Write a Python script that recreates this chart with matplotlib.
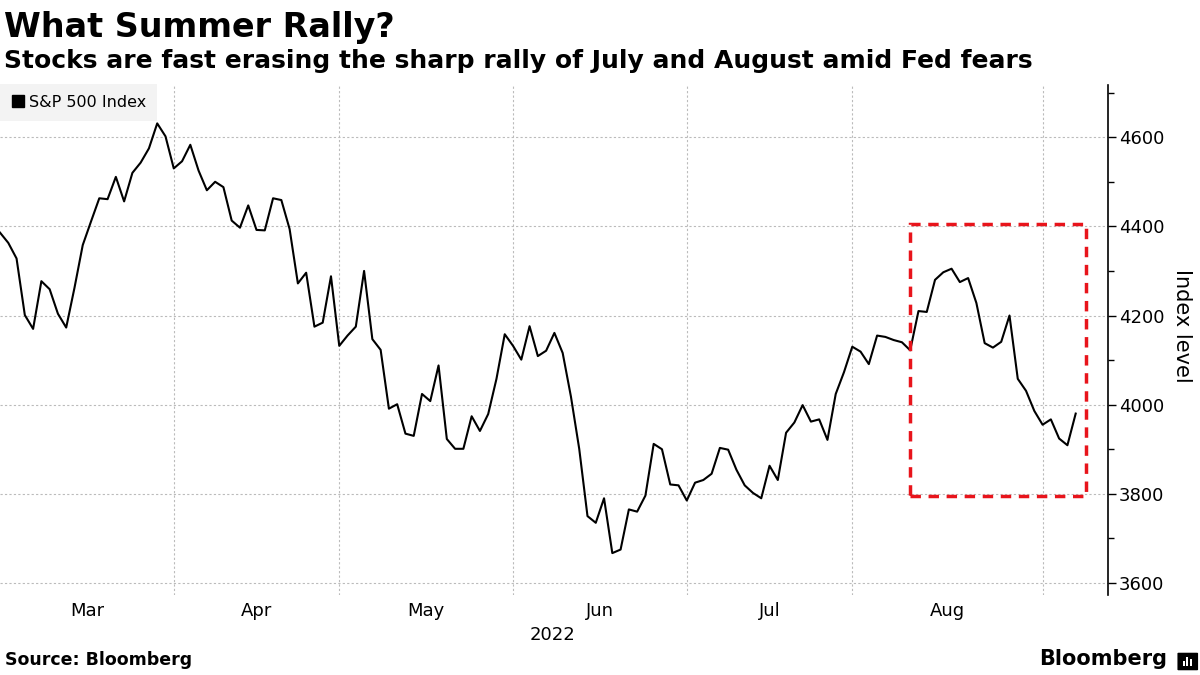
import numpy as np
import pandas as pd
import matplotlib
matplotlib.use("Agg")
import matplotlib.pyplot as plt
import matplotlib.transforms as mtransforms
from matplotlib.lines import Line2D
from matplotlib.patches import Rectangle, FancyBboxPatch
from matplotlib.ticker import MultipleLocator

# Cierres diarios del S&P 500, 2 de marzo a 7 de septiembre de 2022
FERIADOS = ["2022-04-15", "2022-05-30", "2022-06-20", "2022-07-04", "2022-09-05"]
fechas = pd.bdate_range("2022-03-02", "2022-09-07")
fechas = fechas[~fechas.isin(pd.to_datetime(FERIADOS))]

niveles = [
    4386, 4363, 4328, 4201, 4170, 4277, 4259, 4204, 4173, 4262, 4358, 4411, 4463,
    4461, 4511, 4456, 4520, 4543, 4575, 4631, 4602, 4530,
    4546, 4583, 4525, 4481, 4500, 4488, 4413, 4397, 4447, 4392, 4391, 4463, 4459,
    4394, 4272, 4296, 4175, 4184, 4288, 4132,
    4155, 4175, 4300, 4147, 4123, 3991, 4001, 3935, 3930, 4024, 4008, 4088, 3923,
    3901, 3901, 3974, 3941, 3979, 4058, 4158, 4132,
    4101, 4176, 4109, 4121, 4161, 4116, 4018, 3901, 3750, 3735, 3790, 3667, 3675,
    3765, 3760, 3796, 3912, 3900, 3821, 3819, 3785,
    3825, 3831, 3845, 3903, 3899, 3854, 3819, 3802, 3790, 3863, 3831, 3937, 3960,
    3999, 3962, 3967, 3921, 4024, 4073, 4130,
    4119, 4091, 4155, 4152, 4145, 4140, 4122, 4210, 4208, 4280, 4297, 4305, 4275,
    4284, 4228, 4138, 4128, 4141, 4200, 4058, 4031, 3986, 3955,
    3967, 3924, 3909, 3980,
]

meses = ["Mar", "Apr", "May", "Jun", "Jul", "Aug"]
y_ticks = [3600, 3800, 4000, 4200, 4400, 4600]

# recuadro rojo: desde el 9 de agosto, 3800 a 4400 aprox.
recuadro_inicio = "2022-08-09"
recuadro_dias = 21.2
recuadro_bajo, recuadro_alto = 3795, 4405


def main(ruta_grafico):
    idx = np.arange(len(fechas))
    serie = pd.Series(niveles, index=fechas)

    fig = plt.figure(figsize=(12, 6.75), dpi=100)
    ax = fig.add_axes([0.0, 0.1185, 0.9233, 0.7555])

    ax.plot(idx, serie.values, color="black", lw=1.5, zorder=3)

    # lineas de mes: ultimo dia habil del mes anterior
    cortes = [np.searchsorted(fechas, pd.Timestamp(f"2022-{m:02d}-01")) - 1 for m in range(4, 10)]
    x_izq, x_der = 0.0, 133.9
    ax.set_xlim(x_izq, x_der)
    ax.set_ylim(3573, 4717)

    for x in cortes:
        ax.axvline(x, color="#bbbbbb", lw=0.8, ls=(0, (2, 2)), zorder=1)
    for y in y_ticks:
        ax.axhline(y, color="#bbbbbb", lw=0.8, ls=(0, (2, 2)), zorder=1)

    bordes = [x_izq] + cortes
    centros = [(bordes[i] + bordes[i + 1]) / 2 for i in range(len(meses))]
    ax.set_xticks(centros)
    ax.set_xticklabels(meses, fontsize=13)
    ax.tick_params(axis="x", length=0, pad=5)

    trans = mtransforms.blended_transform_factory(ax.transData, ax.transAxes)
    ax.text(66.8, -0.078, "2022", transform=trans, ha="center", va="center", fontsize=13)

    ax.yaxis.tick_right()
    ax.set_yticks(y_ticks)
    ax.yaxis.set_minor_locator(MultipleLocator(100))
    ax.tick_params(axis="y", labelsize=13, length=6, width=1, pad=2)
    ax.tick_params(axis="y", which="minor", length=4, width=1)
    ax.yaxis.set_label_position("right")
    ax.set_ylabel("Index level", fontsize=15, rotation=270, va="bottom")
    ax.yaxis.set_label_coords(1.058, 0.527)

    for lado in ["top", "left", "bottom"]:
        ax.spines[lado].set_visible(False)
    ax.spines["right"].set_linewidth(1.2)

    x0 = np.searchsorted(fechas, pd.Timestamp(recuadro_inicio))
    ax.add_patch(Rectangle((x0, recuadro_bajo), recuadro_dias, recuadro_alto - recuadro_bajo,
                           fill=False, edgecolor="#e8141b", lw=2.5, ls=(0, (3, 2.2)), zorder=4))

    mango = Line2D([], [], color="black", marker="s", ls="none", markersize=8.5)
    leyenda = ax.legend([mango], ["S&P 500 Index"], loc="upper left", bbox_to_anchor=(0, 1.003),
                        frameon=True, fontsize=11.5, handlelength=0.8, handletextpad=0.3,
                        borderpad=0.7, borderaxespad=0)
    leyenda.get_frame().set_facecolor("#f0f0f0")
    leyenda.get_frame().set_edgecolor("none")
    leyenda.get_frame().set_boxstyle("square", pad=0)

    fig.text(0.003, 0.945, "What Summer Rally?", fontsize=24, fontweight="bold", va="baseline")
    fig.text(0.003, 0.899, "Stocks are fast erasing the sharp rally of July and August amid Fed fears",
             fontsize=18, fontweight="bold", va="baseline")
    fig.text(0.004, 0.015, "Source: Bloomberg", fontsize=12.5, fontweight="bold", va="baseline")
    fig.text(0.973, 0.015, "Bloomberg", fontsize=15, fontweight="bold", va="baseline", ha="right")

    # icono del logo
    fig.patches.append(FancyBboxPatch((0.9822, 0.008), 0.0152, 0.024, boxstyle="round,pad=0.001",
                                      transform=fig.transFigure, facecolor="black", edgecolor="none"))
    for i, h in enumerate([0.008, 0.014, 0.010]):
        fig.patches.append(Rectangle((0.9855 + i * 0.0032, 0.013), 0.0016, h,
                                     transform=fig.transFigure, facecolor="white", edgecolor="none"))

    plt.savefig(ruta_grafico, dpi=100)


if __name__ == "__main__":
    main("out.png")
